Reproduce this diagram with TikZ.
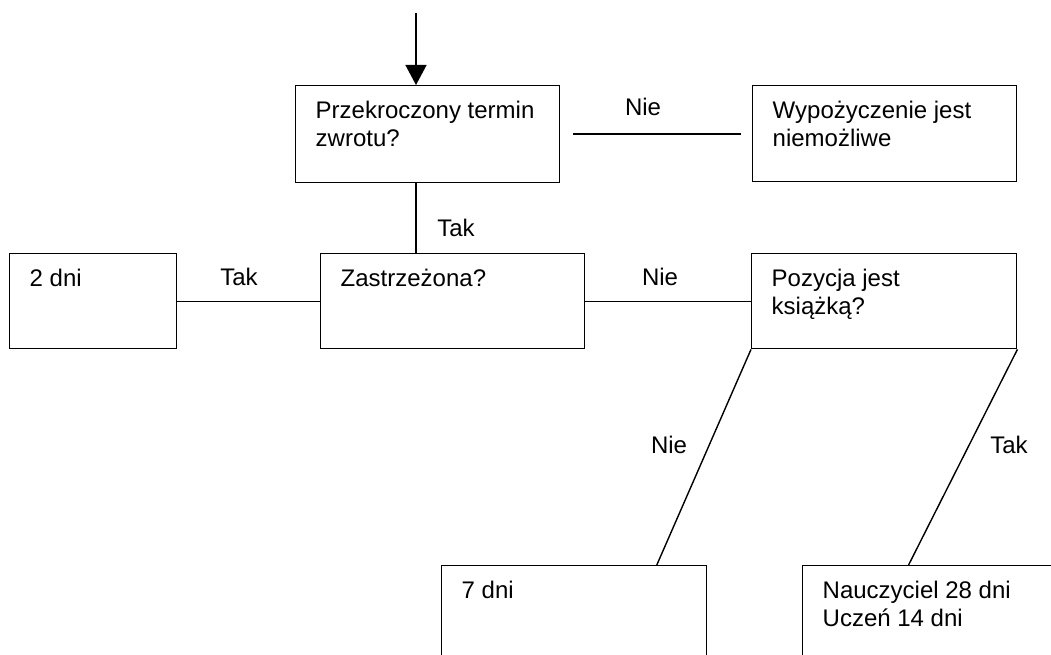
\documentclass[tikz,border=0pt]{standalone}
\usepackage{fontspec}
\setmainfont{Liberation Sans}
\usetikzlibrary{arrows.meta,calc}
% box body: fixed width and height, text set at the top left
\newcommand\celltext[3]{%
  \begin{minipage}[t][#2][t]{#1}\raggedright\leftskip=20pt\relax
  \rule{0pt}{33pt}#3\end{minipage}}
\begin{document}
\begin{tikzpicture}[x=1pt,y=-1pt,line width=1.4pt,
  cell/.style={draw,anchor=north west,inner sep=0pt,
    font=\fontsize{24pt}{27.5pt}\selectfont},
  tag/.style={inner sep=0pt,font=\fontsize{24pt}{27.5pt}\selectfont},
  flow/.style={-{Triangle[length=20pt,width=21pt]}}]
\clip (0,0) rectangle (1051,655);

% decision and result boxes
\node[cell] (A) at (295,85)  {\celltext{264pt}{97pt}{Przekroczony termin\\zwrotu?}};
\node[cell] (B) at (752,85)  {\celltext{264pt}{96pt}{Wypożyczenie jest\\niemożliwe}};
\node[cell] (C) at (9,253)   {\celltext{167pt}{95pt}{2 dni}};
\node[cell] (D) at (320,253) {\celltext{264pt}{95pt}{Zastrzeżona?}};
\node[cell] (E) at (751,253) {\celltext{265pt}{95pt}{Pozycja jest\\książką?}};
\node[cell] (F) at (441,565) {\celltext{265pt}{95pt}{7 dni}};
\node[cell] (G) at (802,565) {\celltext{265pt}{95pt}{Nauczyciel 28 dni\\Uczeń 14 dni}};

% entry arrow
\coordinate (in) at (416,13);
\draw[flow] (in) -- (in |- A.north);

% connectors
\draw[shorten <=13pt,shorten >=11pt] (A.east) -- (A.east -| B.west);
\draw (A.south -| in) -- (D.north -| in);
\draw (C.east) -- (C.east -| D.west);
\draw (D.east) -- (D.east -| E.west);
\draw (E.south west) -- ($(F.north west)!0.81!(F.north east)$);
\draw (E.south east) -- ($(G.north west)!0.4!(G.north east)$);

% branch labels
\node[tag] (l1) at (643,107) {Nie};
\node[tag] (l2) at (456,228) {Tak};
\node[tag] (l3) at (239,277) {Tak};
\node[tag] (l4) at (660,277) {Nie};
\node[tag] (l5) at (669,445) {Nie};
\node[tag] (l6) at (1009,445) {Tak};
\end{tikzpicture}
\end{document}
